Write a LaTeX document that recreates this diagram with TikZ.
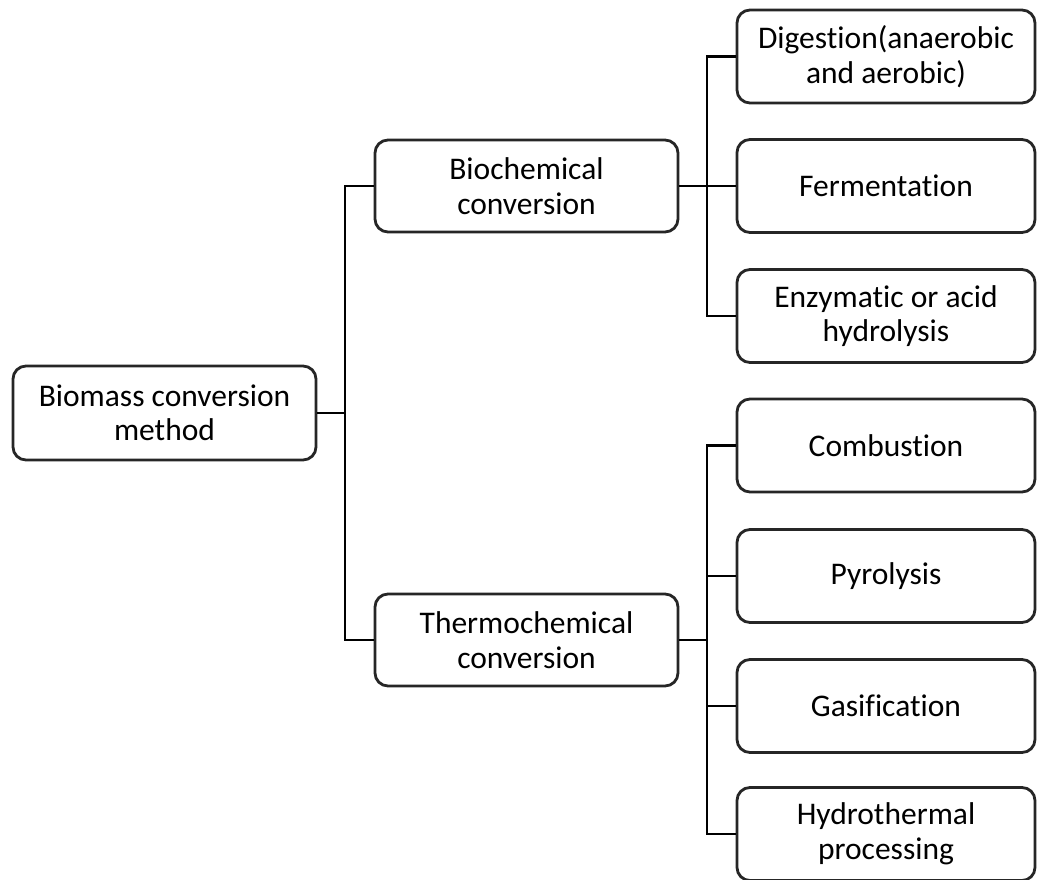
\documentclass[tikz,border=0pt]{standalone}
\usepackage{fontspec}
\setmainfont{Carlito}[RawFeature=-liga]
\begin{document}
\begin{tikzpicture}[x=1pt,y=-1pt,
  box/.style={draw=black!85, line width=2.8pt, rounded corners=13pt, fill=white,
    minimum width=#1, align=center, inner sep=0pt, font=\fontsize{31.5}{34.5}\selectfont},
  box/.default=300pt,
  conn/.style={line width=2.8pt, draw=black}]
\useasboundingbox (0,0) rectangle (1037,880);
\node[box=303pt, minimum height=94pt] (root) at (164.5,413) {Biomass conversion\\method};
\node[box=303pt, minimum height=92pt] (bio) at (526.5,186) {Biochemical\\conversion};
\node[box=303pt, minimum height=92pt] (thermo) at (526.5,640) {Thermochemical\\conversion};
\node[box=298pt, minimum height=93pt] (dig) at (886,56.5) {Digestion(anaerobic\\and aerobic)};
\node[box=298pt, minimum height=93pt] (fer) at (886,186) {Fermentation};
\node[box=298pt, minimum height=93pt] (enz) at (886,316) {Enzymatic or acid\\hydrolysis};
\node[box=298pt, minimum height=93pt] (com) at (886,445.5) {Combustion};
\node[box=298pt, minimum height=93pt] (pyr) at (886,576) {Pyrolysis};
\node[box=298pt, minimum height=93pt] (gas) at (886,706) {Gasification};
\node[box=298pt, minimum height=93pt] (hyd) at (886,834) {Hydrothermal\\processing};
\coordinate (t1) at (345,413);
\coordinate (t2) at (707,186);
\coordinate (t3) at (707,640);
\draw[conn] (root.east) -- (t1);
\draw[conn] (bio.west) -| (t1) |- (thermo.west);
\draw[conn] (bio.east) -- (t2);
\draw[conn] (dig.west) -| (t2) |- (enz.west);
\draw[conn] (t2) -- (fer.west);
\draw[conn] (thermo.east) -- (t3);
\draw[conn] (com.west) -| (t3) |- (hyd.west);
\draw[conn] (pyr.west) -| (t3);
\draw[conn] (gas.west) -| (t3);
\end{tikzpicture}
\end{document}
